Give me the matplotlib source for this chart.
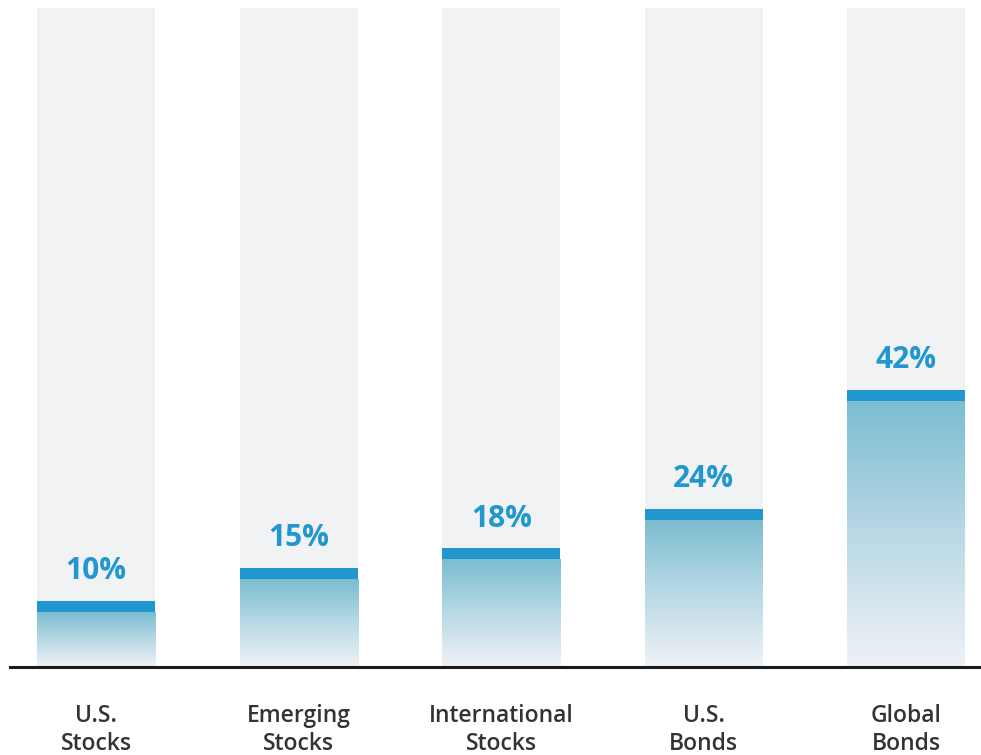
import numpy as np
import matplotlib
matplotlib.use("Agg")
import matplotlib.pyplot as plt
from matplotlib.colors import LinearSegmentedColormap

categories = ["U.S.\nStocks", "Emerging\nStocks", "International\nStocks", "U.S.\nBonds", "Global\nBonds"]
values = [10, 15, 18, 24, 42]
labels = ["10%", "15%", "18%", "24%", "42%"]

W, H = 981, 755
fig = plt.figure(figsize=(W / 100, H / 100), dpi=100)
fig.patch.set_facecolor("white")
ax = fig.add_axes([10 / W, (H - 667) / H, 971 / W, 659 / H])

spacing = 202.6
xlim = (-86 / spacing, (981 - 96) / spacing)
bw = 118 / spacing
ax.set_xlim(*xlim)
ax.set_ylim(0, 100)

x = np.arange(len(values))
# background bars
ax.bar(x, [100] * len(values), width=bw, color="#f1f2f4", zorder=1)

cmap = LinearSegmentedColormap.from_list("g", ["#eff2f6", "#b9d9e5", "#7bbdd1"])
grad = np.linspace(0, 1, 256).reshape(-1, 1)
cap = 1.67
for xi, v, lab in zip(x, values, labels):
    ax.imshow(grad, cmap=cmap, origin="lower", aspect="auto",
              extent=[xi - bw / 2, xi + bw / 2, 0, v - cap], zorder=2)
    ax.bar(xi, cap, bottom=v - cap, width=bw, color="#2196cf", zorder=3)
    ax.text(xi, v + 3.3, lab, ha="center", va="baseline", color="#2196cf",
            fontsize=21.5, fontweight="bold", family=["Open Sans", "DejaVu Sans"], zorder=4)

ax.set_xlim(*xlim)
ax.set_ylim(0, 100)
for s in ["top", "right", "left"]:
    ax.spines[s].set_visible(False)
ax.spines["bottom"].set_color("#1a1a1a")
ax.spines["bottom"].set_linewidth(2.2)
ax.set_yticks([])
ax.set_xticks(x)
ax.set_xticklabels(categories, fontsize=16.5, color="#333333", fontweight="semibold",
                   family=["Open Sans", "DejaVu Sans"], linespacing=1.2)
ax.tick_params(axis="x", length=0, pad=27)

fig.savefig("out.png", dpi=100, facecolor="white")
